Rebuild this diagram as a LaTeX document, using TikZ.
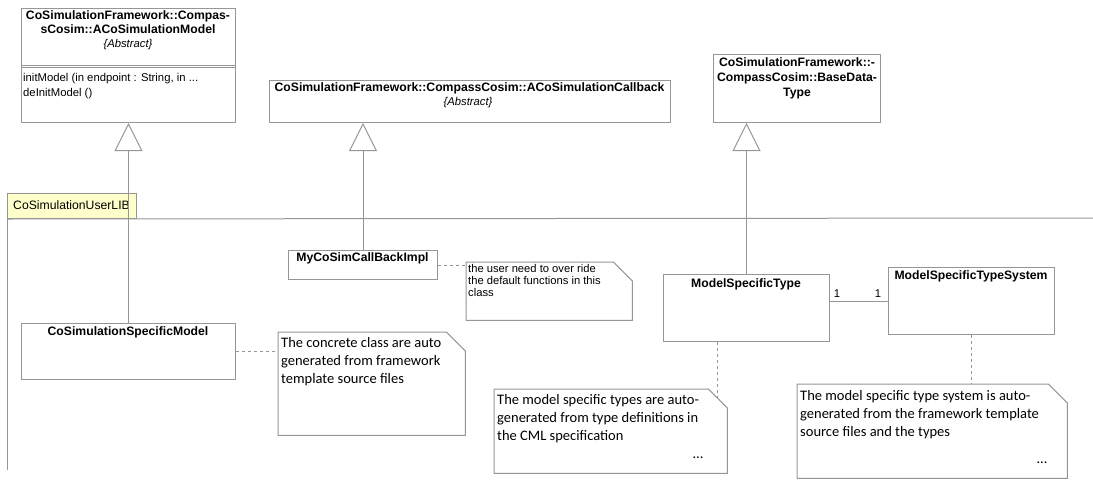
\documentclass[tikz,border=0pt]{standalone}
\usepackage{fontspec}
\setmainfont{Liberation Sans}
\newfontfamily\notefont{Carlito}
\usetikzlibrary{arrows.meta,calc}
\definecolor{edge}{RGB}{150,150,150}
\definecolor{tabfill}{RGB}{255,255,204}

\begin{document}
\begin{tikzpicture}[x=1pt,y=-1pt,
  box/.style={draw=edge, line width=1pt, fill=white, inner sep=0pt, anchor=north west},
  holder/.style={inner sep=0pt, anchor=north west},
  lbl/.style={inner sep=0pt, anchor=base, font=\fontsize{12.2}{14}\selectfont\bfseries},
  txt/.style={inner sep=0pt, font=\fontsize{11.3}{13}\selectfont},
  abs/.style={inner sep=0pt, anchor=base, font=\fontsize{11.3}{13}\selectfont\itshape},
  ntxt/.style={inner sep=0pt, anchor=base west, font=\notefont\fontsize{14.5}{17}\selectfont},
  gen/.style={draw=edge, line width=1pt, -{Triangle[open, length=28pt, width=28pt]}},
  link/.style={draw=edge, line width=1pt},
  trace/.style={draw=edge, line width=1pt, dash pattern=on 3pt off 3pt},
  noteframe/.style={draw=edge, line width=1pt, fill=white},
]
\useasboundingbox (0,0) rectangle (1093,488);

% ---- package CoSimulationUserLIB ----
\node[box, fill=tabfill, minimum width=129pt, minimum height=25pt] (tab) at (7,193) {};
\node[inner sep=0pt, anchor=base west, font=\fontsize{12.2}{14}\selectfont] (tabT) at (13,209.5) {CoSimulationUserLIB};
\coordinate (pkgR) at (1093,218);
\coordinate (pkgB) at (7,470);
\draw[link] (tab.south west) -- (pkgR);
\draw[link] (tab.south west) -- (pkgB);

% ---- framework classes ----
\node[box, minimum width=214pt, minimum height=114pt] (acm) at (21,8) {};
\draw[link] (21,65) -- (235,65);
\draw[link] (21,67) -- (235,67);
\node[lbl] (acmT1) at (128,19) {CoSimulationFramework::Compas-};
\node[lbl] (acmT2) at (128,33) {sCosim::ACoSimulationModel};
\node[abs] (acmT3) at (128,47) {\{Abstract\}};
\node[txt, anchor=base west] (acmOp1) at (23,81) {initModel (in endpoint : String, in ...};
\node[txt, anchor=base west] (acmOp2) at (23,96) {deInitModel ()};

\node[box, minimum width=401pt, minimum height=42pt] (cb) at (269,80) {};
\node[lbl] (cbT1) at (469.5,91) {CoSimulationFramework::CompassCosim::ACoSimulationCallback};
\node[abs] (cbT2) at (468,105) {\{Abstract\}};

\node[box, minimum width=167pt, minimum height=68pt] (bdt) at (713,54) {};
\node[lbl] (bdtT1) at (797,66) {CoSimulationFramework::-};
\node[lbl] (bdtT2) at (797,81) {CompassCosim::BaseData-};
\node[lbl] (bdtT3) at (797,96) {Type};

% ---- user classes ----
\node[box, minimum width=149pt, minimum height=29pt] (impl) at (288,250) {};
\node[lbl] (implT) at (362.5,261) {MyCoSimCallBackImpl};

\node[box, minimum width=214pt, minimum height=56pt] (csm) at (21,323) {};
\node[lbl] (csmT) at (128,335) {CoSimulationSpecificModel};

\node[box, minimum width=166pt, minimum height=67pt] (mst) at (663,274) {};
\node[lbl] (mstT) at (746,287) {ModelSpecificType};

\node[box, minimum width=166pt, minimum height=67pt] (msts) at (888,267) {};
\node[lbl] (mstsT) at (971,279) {ModelSpecificTypeSystem};

% ---- generalizations ----
\draw[gen] (csm.north) -- (acm.south);
\draw[gen] (impl.north) -- (impl.north |- cb.south);
\draw[gen] (mst.north) -- (mst.north |- bdt.south);

% ---- association ----
\draw[link] (msts.west) -- (msts.west -| mst.east);
\node[txt, anchor=base] (m1) at (837,297) {1};
\node[txt, anchor=base] (m2) at (878,297) {1};

% ---- notes ----
\node[holder, minimum width=166pt, minimum height=58pt] (n1) at (466,262) {};
\draw[noteframe] (n1.north west) -- ($(n1.north east)+(-19,0)$) -- ($(n1.north east)+(0,19)$) -- (n1.south east) -- (n1.south west) -- cycle;
\node[inner sep=0pt, anchor=base west, font=\fontsize{11.2}{13}\selectfont] (n1a) at (468,272) {the user need to over ride};
\node[inner sep=0pt, anchor=base west, font=\fontsize{11.2}{13}\selectfont] (n1b) at (468,284) {the default functions in this};
\node[inner sep=0pt, anchor=base west, font=\fontsize{11.2}{13}\selectfont] (n1c) at (468,296) {class};

\node[holder, minimum width=187pt, minimum height=103pt] (n0) at (278,332) {};
\draw[noteframe] (n0.north west) -- ($(n0.north east)+(-19,0)$) -- ($(n0.north east)+(0,19)$) -- (n0.south east) -- (n0.south west) -- cycle;
\node[ntxt] (n0a) at (281,347) {The concrete class are auto};
\node[ntxt] (n0b) at (281,365) {generated from framework};
\node[ntxt] (n0c) at (281,383) {template source files};

\node[holder, minimum width=233pt, minimum height=84pt] (n2) at (494,389) {};
\draw[noteframe] (n2.north west) -- ($(n2.north east)+(-19,0)$) -- ($(n2.north east)+(0,19)$) -- (n2.south east) -- (n2.south west) -- cycle;
\node[ntxt] (n2a) at (497,404) {The model specific types are auto-};
\node[ntxt] (n2b) at (497,422) {generated from type definitions in};
\node[ntxt] (n2c) at (497,440) {the CML specification};
\node[ntxt, anchor=base] (n2d) at (698,458) {...};

\node[holder, minimum width=270pt, minimum height=94pt] (n3) at (797,384) {};
\draw[noteframe] (n3.north west) -- ($(n3.north east)+(-19,0)$) -- ($(n3.north east)+(0,19)$) -- (n3.south east) -- (n3.south west) -- cycle;
\node[ntxt] (n3a) at (800,400) {The model specific type system is auto-};
\node[ntxt] (n3b) at (800,418) {generated from the framework template};
\node[ntxt] (n3c) at (800,436) {source files and the types};
\node[ntxt, anchor=base] (n3d) at (1042,463) {...};

% ---- note attachments ----
\draw[trace] (impl.east) -- (impl.east -| n1.west);
\draw[trace] (csm.east) -- (csm.east -| n0.west);
\coordinate (n2hook) at (717,398);
\draw[trace] (n2hook |- mst.south) -- (n2hook);
\draw[trace] (msts.south) -- (msts.south |- n3.north);
\end{tikzpicture}
\end{document}
